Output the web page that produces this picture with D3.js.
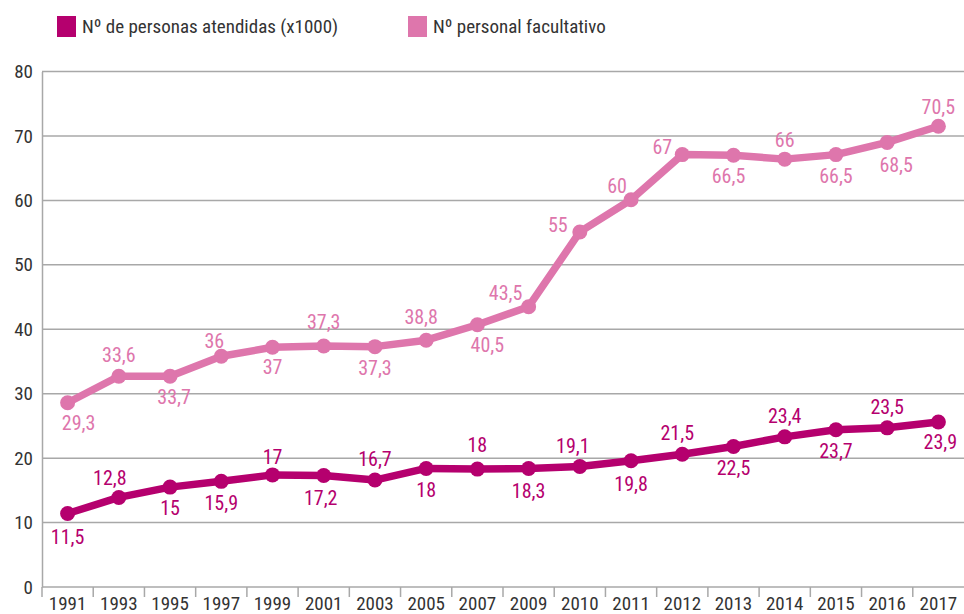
<!DOCTYPE html>
<html>
<head>
<meta charset="utf-8">
<script src="https://cdn.jsdelivr.net/npm/d3@7/dist/d3.min.js"></script>
<style>
  body { margin: 0; background: #fff; }
  svg text { font-family: "Liberation Sans Narrow", "Arial Narrow", "Roboto Condensed", sans-serif; }
</style>
</head>
<body>
<div id="chart-area"></div>
<script>
// datos
var years = ["1991", "1993", "1995", "1997", "1999", "2001", "2003", "2005", "2007", "2009",
             "2010", "2011", "2012", "2013", "2014", "2015", "2016", "2017"];
var atendidas = [11.4, 13.9, 15.5, 16.4, 17.4, 17.3, 16.6, 18.4, 18.3, 18.4,
                 18.7, 19.6, 20.6, 21.8, 23.3, 24.4, 24.7, 25.6];
var atendidasEtiquetas = ["11,5", "12,8", "15", "15,9", "17", "17,2", "16,7", "18", "18", "18,3",
                          "19,1", "19,8", "21,5", "22,5", "23,4", "23,7", "23,5", "23,9"];
var facultativo = [28.6, 32.7, 32.7, 35.8, 37.2, 37.4, 37.3, 38.3, 40.7, 43.5,
                   55.1, 60.1, 67.1, 67.0, 66.4, 67.1, 69.0, 71.5];
var facultativoEtiquetas = ["29,3", "33,6", "33,7", "36", "37", "37,3", "37,3", "38,8", "40,5", "43,5",
                            "55", "60", "67", "66,5", "66", "66,5", "68,5", "70,5"];
var yTicks = [0, 10, 20, 30, 40, 50, 60, 70, 80];
var seriesNames = ["Nº de personas atendidas (x1000)", "Nº personal facultativo"];

// label offsets (dx, dy) from each point
var offAtendidas = [[0,23],[-9,-20],[0,21],[0,21],[0,-18],[-3,22],[0,-21],[0,21],[0,-24],[0,22],
                    [-7,-21],[0,23],[-5,-21],[0,21],[0,-21],[0,21],[0,-21],[2,20]];
var offFacultativo = [[11,20],[0,-21],[4,21],[-7,-16],[0,20],[0,-24],[0,21],[-5,-23],[10,20],[-23,-14],
                      [-22,-7],[-14,-14],[-20,-8],[-5,21],[0,-19],[0,21],[9,22],[0,-19]];

var colorDark = "#b5006e";
var colorPink = "#de76ac";

var margin = {top: 71.5, right: 0, bottom: 27, left: 42};
var W = 964, H = 614;
var width = W - margin.left - margin.right;
var height = H - margin.top - margin.bottom;

var svg = d3.select("#chart-area").append("svg").attr("width", W).attr("height", H);
var g = svg.append("g").attr("transform", "translate(" + margin.left + "," + margin.top + ")");

var x = d3.scaleBand().domain(years).range([0, width]);
var y = d3.scaleLinear().domain([0, 80]).range([height, 0]);

// gridlines
g.selectAll(".grid").data(yTicks).enter().append("line")
    .attr("x1", 0).attr("x2", width)
    .attr("y1", d => y(d)).attr("y2", d => y(d))
    .attr("stroke", "#a8a8a8").attr("stroke-width", 1.5);

// y axis
var yAxis = g.append("g").call(d3.axisLeft(y).tickValues(yTicks).tickSize(0).tickPadding(9));
yAxis.select(".domain").attr("stroke", "#a8a8a8").attr("stroke-width", 1.5);
yAxis.selectAll("text").attr("font-size", "19px").attr("fill", "#333");

// x axis
var xAxis = g.append("g").attr("transform", "translate(0," + height + ")")
    .call(d3.axisBottom(x).tickSize(0).tickPadding(10));
xAxis.select(".domain").remove();
xAxis.selectAll("text").attr("font-size", "19px").attr("fill", "#333");
g.selectAll(".xtick").data(years).enter().append("line")
    .attr("x1", d => x(d)).attr("x2", d => x(d))
    .attr("y1", height).attr("y2", height + 10)
    .attr("stroke", "#a8a8a8").attr("stroke-width", 1.5);

function drawSeries(values, labels, offs, color) {
    var line = d3.line().x((d, i) => x(years[i]) + x.bandwidth() / 2).y(d => y(d));
    g.append("path").datum(values)
        .attr("d", line)
        .attr("fill", "none")
        .attr("stroke", color)
        .attr("stroke-width", 7.5)
        .attr("stroke-linejoin", "round");
    g.selectAll(null).data(values).enter().append("circle")
        .attr("cx", (d, i) => x(years[i]) + x.bandwidth() / 2)
        .attr("cy", d => y(d))
        .attr("r", 7.5)
        .attr("fill", color);
    g.selectAll(null).data(values).enter().append("text")
        .attr("x", (d, i) => x(years[i]) + x.bandwidth() / 2 + offs[i][0])
        .attr("y", (d, i) => y(d) + offs[i][1])
        .attr("dy", "0.36em")
        .attr("text-anchor", "middle")
        .attr("font-size", "20px")
        .attr("fill", color)
        .text((d, i) => labels[i]);
}

drawSeries(facultativo, facultativoEtiquetas, offFacultativo, colorPink);
drawSeries(atendidas, atendidasEtiquetas, offAtendidas, colorDark);

// legend
var legend = svg.append("g");
var legendX = [57, 408];
var legendColors = [colorDark, colorPink];
seriesNames.forEach((name, i) => {
    legend.append("rect").attr("x", legendX[i]).attr("y", 16)
        .attr("width", 19).attr("height", 21).attr("fill", legendColors[i]);
    legend.append("text").attr("x", legendX[i] + 25).attr("y", 33)
        .attr("font-size", "19px").attr("fill", "#333").text(name);
});
</script>
</body>
</html>
